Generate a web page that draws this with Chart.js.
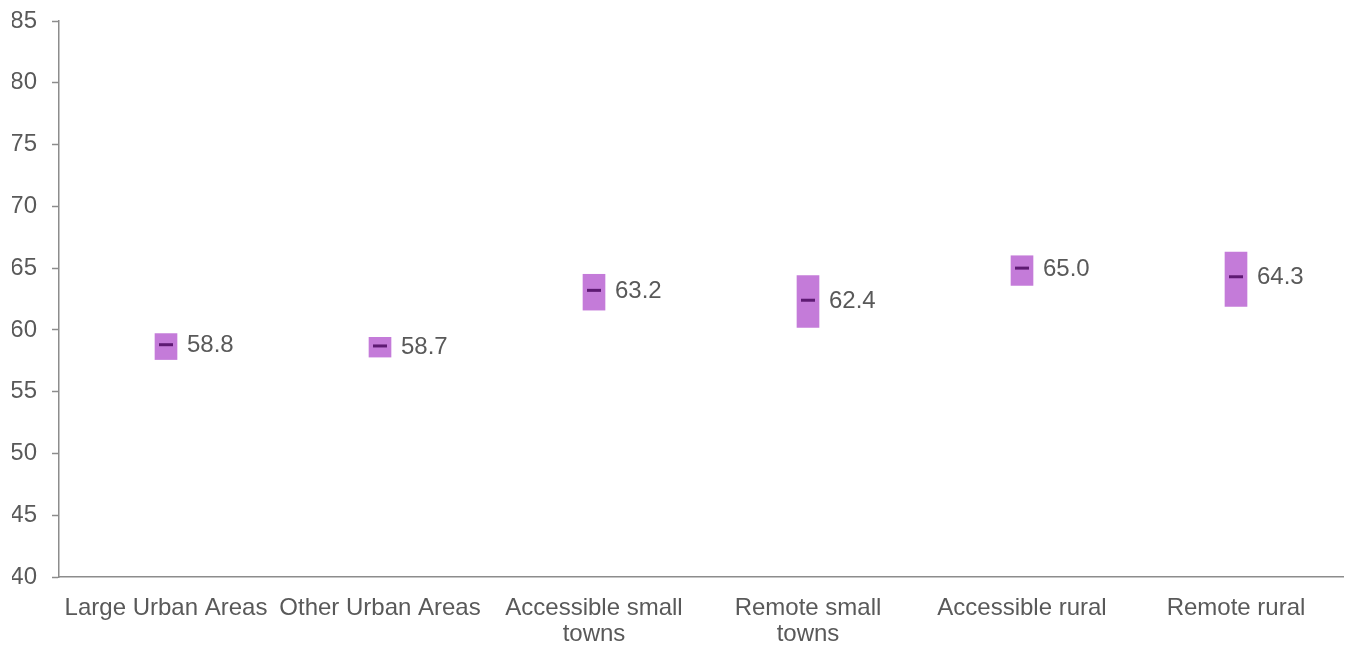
<!DOCTYPE html>
<html>
<head>
<meta charset="utf-8">
<script src="https://cdn.jsdelivr.net/npm/chart.js@4.4.1/dist/chart.umd.min.js"></script>
<style>
  html, body { margin: 0; padding: 0; background: #fff; }
  #wrap { width: 1347px; height: 646px; position: relative; }
</style>
</head>
<body>
<div id="wrap"><canvas id="ciChart"></canvas></div>
<script>
// Area types (multi-line labels wrap under the axis)
const categories = [
  'Large Urban Areas',
  'Other Urban Areas',
  ['Accessible small', 'towns'],
  ['Remote small', 'towns'],
  'Accessible rural',
  'Remote rural'
];
// Mean score and 95% confidence interval bounds
const means = [58.8, 58.7, 63.2, 62.4, 65.0, 64.3];
const lower = [57.6, 57.8, 61.6, 60.2, 63.6, 61.9];
const upper = [59.7, 59.4, 64.5, 64.4, 66.0, 66.3];
const yTicks = [40, 45, 50, 55, 60, 65, 70, 75, 80, 85];

const textColor = '#595959';
const axisColor = '#8c8c8c';
const font = { family: 'Liberation Sans, Arial, sans-serif', size: 24 };

// writes the mean value to the right of each interval bar
const meanLabels = {
  id: 'meanLabels',
  afterDatasetsDraw(chart) {
    const ctx = chart.ctx;
    const bars = chart.getDatasetMeta(1).data;
    const y = chart.scales.y;
    ctx.save();
    ctx.font = `${font.size}px ${font.family}`;
    ctx.fillStyle = textColor;
    ctx.textAlign = 'left';
    ctx.textBaseline = 'middle';
    bars.forEach((bar, i) => {
      ctx.fillText(means[i].toFixed(1), bar.x + bar.width / 2 + 10, y.getPixelForValue(means[i]) + 1);
    });
    ctx.restore();
  }
};

const ctx = document.getElementById('ciChart').getContext('2d');
new Chart(ctx, {
  type: 'bar',
  data: {
    labels: categories,
    datasets: [
      {
        type: 'line',
        label: 'Mean',
        data: means,
        showLine: false,
        pointStyle: 'line',
        pointRadius: 7,
        pointHoverRadius: 7,
        pointBorderWidth: 3,
        borderColor: '#5e1a73',
        backgroundColor: '#5e1a73',
        order: 0
      },
      {
        label: '95% CI',
        data: lower.map((lo, i) => [lo, upper[i]]),
        backgroundColor: '#c47bd9',
        borderWidth: 0,
        borderSkipped: false,
        barThickness: 22,
        order: 1
      }
    ]
  },
  options: {
    responsive: true,
    maintainAspectRatio: false,
    animation: false,
    layout: { autoPadding: false, padding: { top: 21, right: 4, bottom: 0, left: 12 } },
    plugins: {
      legend: { display: false },
      tooltip: { enabled: false }
    },
    scales: {
      x: {
        grid: { display: false, drawTicks: false },
        border: { color: axisColor, width: 1.5 },
        ticks: {
          color: textColor,
          font: { ...font, lineHeight: 1.08 },
          padding: 18,
          maxRotation: 0,
          autoSkip: false
        },
        afterFit(scale) {
          scale.height = 69;
          scale.paddingLeft = 0;
          scale.paddingRight = 0;
        }
      },
      y: {
        min: yTicks[0],
        max: yTicks[yTicks.length - 1],
        afterBuildTicks(scale) {
          scale.ticks = yTicks.map(v => ({ value: v }));
        },
        grid: {
          drawOnChartArea: false,
          tickLength: 7,
          tickWidth: 1.5,
          tickColor: axisColor
        },
        border: { color: axisColor, width: 1.5 },
        ticks: {
          color: textColor,
          font: font,
          padding: 15
        },
        afterFit(scale) {
          scale.width = 47;
          scale.paddingTop = 0;
          scale.paddingBottom = 0;
        }
      }
    }
  },
  plugins: [meanLabels]
});
</script>
</body>
</html>
